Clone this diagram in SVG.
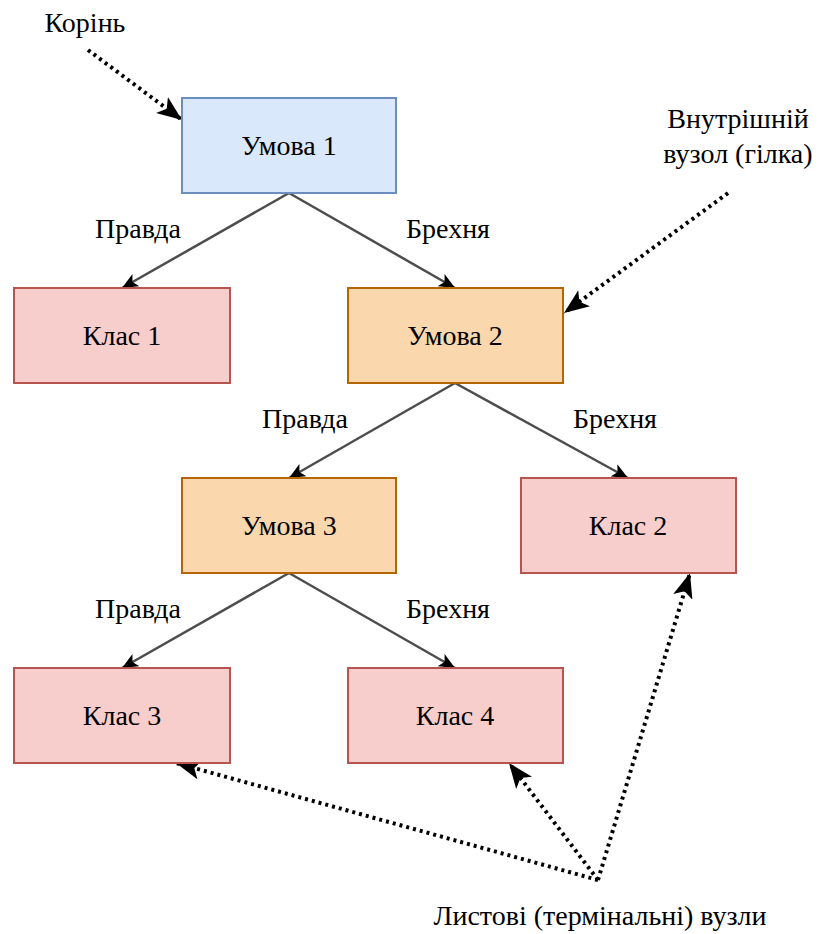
<svg xmlns="http://www.w3.org/2000/svg" width="819" height="934" viewBox="0 0 819 934" font-family="Liberation Serif, DejaVu Serif, serif">
<style>
text{font-size:28px;fill:#000;text-anchor:middle}
.blue{fill:#dae8fc;stroke:#6c8ebf;stroke-width:2}
.red{fill:#f8cecc;stroke:#b85450;stroke-width:2}
.orange{fill:#fad7ac;stroke:#b46504;stroke-width:2}
.edge{stroke:#4d4d4d;stroke-width:2.5;fill:none;marker-end:url(#arr)}
.dot{stroke:#000;stroke-width:4;stroke-dasharray:3 4;fill:none;marker-end:url(#darr)}
</style>
<defs>
<marker id="arr" markerUnits="userSpaceOnUse" markerWidth="17" markerHeight="14" refX="16" refY="7" orient="auto">
<path d="M0,0 L16,7 L0,14 L4,7 Z" fill="#000"/>
</marker>
<marker id="darr" markerUnits="userSpaceOnUse" markerWidth="26" markerHeight="20" refX="25" refY="10" orient="auto">
<path d="M0,0 L25,10 L0,20 L6,10 Z" fill="#000"/>
</marker>
</defs>
<g id="connectors">
<path class="edge" d="M289,193 L122,288"/>
<path class="edge" d="M289,193 L455,288"/>
<path class="edge" d="M455,383 L289,478"/>
<path class="edge" d="M455,383 L628,478"/>
<path class="edge" d="M289,573 L122,668"/>
<path class="edge" d="M289,573 L455,668"/>
<path class="dot" d="M88,50 L182,120"/>
<path class="dot" d="M728,193 L564,313"/>
<path class="dot" d="M598,880 L176,763"/>
<path class="dot" d="M598,880 L509,763"/>
<path class="dot" d="M598,880 L690,573"/>
</g>
<g id="edge-labels">
<text x="138" y="238">Правда</text>
<text x="448" y="238">Брехня</text>
<text x="305" y="428">Правда</text>
<text x="615" y="428">Брехня</text>
<text x="138" y="618">Правда</text>
<text x="448" y="618">Брехня</text>
</g>
<g id="cond1"><rect class="blue" x="182" y="98" width="214" height="95"/><text x="289" y="155">Умова 1</text></g>
<g id="class1"><rect class="red" x="14" y="288" width="216" height="95"/><text x="122" y="345">Клас 1</text></g>
<g id="cond2"><rect class="orange" x="348" y="288" width="215" height="95"/><text x="455" y="345">Умова 2</text></g>
<g id="cond3"><rect class="orange" x="182" y="478" width="214" height="95"/><text x="289" y="535">Умова 3</text></g>
<g id="class2"><rect class="red" x="521" y="478" width="215" height="95"/><text x="628" y="535">Клас 2</text></g>
<g id="class3"><rect class="red" x="14" y="668" width="216" height="95"/><text x="122" y="725">Клас 3</text></g>
<g id="class4"><rect class="red" x="348" y="668" width="215" height="95"/><text x="455" y="725">Клас 4</text></g>
<g id="root-label"><text x="85" y="32">Корінь</text></g>
<g id="inner-label"><text x="738" y="128">Внутрішній</text><text x="738" y="163">вузол (гілка)</text></g>
<g id="leaf-label"><text x="600" y="925">Листові (термінальні) вузли</text></g>
</svg>
